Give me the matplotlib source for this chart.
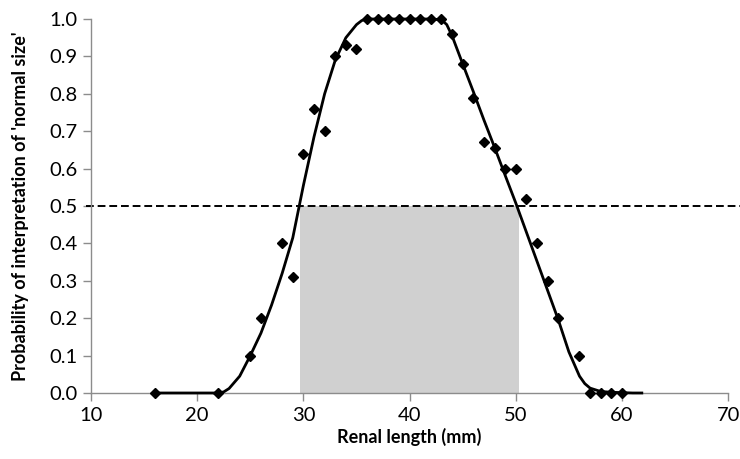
import matplotlib
matplotlib.use("Agg")
import matplotlib.pyplot as plt

# observed probabilities
point_x = [16, 22, 25, 26, 28, 29, 30, 31, 32, 33, 34, 35,
           36, 37, 38, 39, 40, 41, 42, 43,
           44, 45, 46, 47, 48, 49, 50, 51, 52, 53, 54, 56,
           57, 58, 59, 60]
point_y = [0.0, 0.0, 0.10, 0.20, 0.40, 0.31, 0.64, 0.76, 0.70, 0.90, 0.93, 0.92,
           1.0, 1.0, 1.0, 1.0, 1.0, 1.0, 1.0, 1.0,
           0.96, 0.88, 0.79, 0.67, 0.655, 0.60, 0.60, 0.52, 0.40, 0.30, 0.20, 0.10,
           0.0, 0.0, 0.0, 0.0]

# fitted curve
curve_x = [16, 18, 20, 22, 22.5, 23, 24, 25, 26, 27, 28, 29, 30, 31, 32, 33, 34, 35, 35.5,
           36, 38, 40, 42, 43, 43.5, 44, 45, 46, 47, 48, 49, 50, 51, 52, 53, 54, 55,
           56, 56.5, 57, 58, 59, 60, 61, 62]
curve_y = [0.0, 0.0, 0.0, 0.0, 0.003, 0.012, 0.045, 0.10, 0.16, 0.235, 0.32, 0.415,
           0.555, 0.685, 0.80, 0.89, 0.95, 0.985, 0.996,
           1.0, 1.0, 1.0, 1.0, 0.998, 0.985, 0.955, 0.88, 0.806, 0.73, 0.657, 0.582,
           0.508, 0.43, 0.352, 0.274, 0.196, 0.11,
           0.045, 0.025, 0.013, 0.004, 0.002, 0.001, 0.0, 0.0]

threshold = 0.5
normal_low = 29.7
normal_high = 50.3

x_ticks = [10, 20, 30, 40, 50, 60, 70]
y_ticks = [0.0, 0.1, 0.2, 0.3, 0.4, 0.5, 0.6, 0.7, 0.8, 0.9, 1.0]

plt.rcParams['font.family'] = ['Lato', 'DejaVu Sans']

fig = plt.figure(figsize=(7.4, 4.59), dpi=100)
ax = fig.add_axes([0.123, 0.1438, 0.861, 0.8148])

ax.fill_between([normal_low, normal_high], 0, threshold, color='#d0d0d0', lw=0, zorder=1)
ax.axhline(threshold, xmin=-0.008, xmax=1.02, color='black', lw=1.4,
           linestyle=(0, (4, 2)), clip_on=False, zorder=2)
ax.plot(curve_x, curve_y, color='black', lw=2.0, zorder=3, clip_on=False,
        solid_capstyle='butt')
ax.plot(point_x, point_y, linestyle='none', marker='D', markersize=5.5,
        color='black', zorder=4, clip_on=False)

ax.set_xlim(10, 70)
ax.set_ylim(0, 1.0)
ax.set_xticks(x_ticks)
ax.set_yticks(y_ticks)
ax.set_yticklabels([f"{v:.1f}" for v in y_ticks])
ax.set_xticklabels([str(v) for v in x_ticks])

for s in ['top', 'right']:
    ax.spines[s].set_visible(False)
for s in ['left', 'bottom']:
    ax.spines[s].set_color('#8c8c8c')
    ax.spines[s].set_linewidth(1.0)
ax.tick_params(axis='both', colors='#8c8c8c', labelcolor='black', labelsize=14.5,
               length=6, width=1.0, direction='out')
ax.tick_params(axis='x', pad=4)
ax.tick_params(axis='y', pad=4)

ax.set_xlabel('Renal length (mm)', fontsize=13, fontweight='bold')
ax.set_ylabel("Probability of interpretation of 'normal size'", fontsize=13,
              fontweight='bold')
ax.xaxis.set_label_coords(0.5, -0.092)
ax.yaxis.set_label_coords(-0.098, 0.5)

fig.savefig('out.png', dpi=100)
